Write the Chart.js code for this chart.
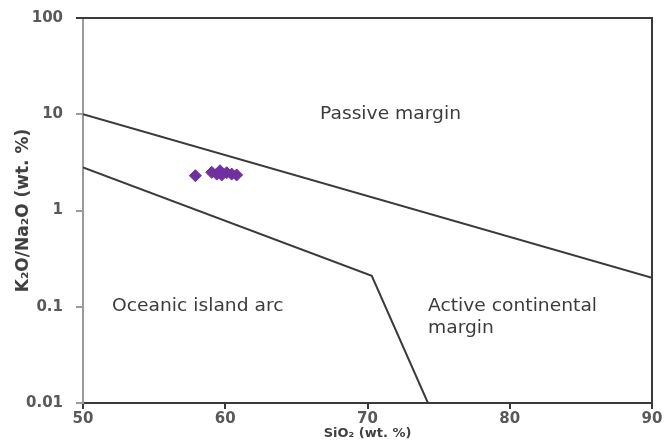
<!DOCTYPE html>
<html>
<head>
<meta charset="utf-8">
<script src="https://cdn.jsdelivr.net/npm/chart.js@4/dist/chart.umd.min.js"></script>
<style>
  html, body { margin: 0; padding: 0; background: #fff; }
  #wrap { width: 665px; height: 448px; }
</style>
</head>
<body>
<div id="wrap"><canvas id="myChart"></canvas></div>
<script>
// sample points (SiO2 vs K2O/Na2O)
const sio2 = [57.9, 59.05, 59.4, 59.63, 59.75, 60.1, 60.45, 60.8];
const k2oNa2o = [2.3, 2.49, 2.39, 2.59, 2.34, 2.47, 2.39, 2.34];

// field boundaries
const passiveX = [50, 90];
const passiveY = [10, 0.2];
const arcX = [50, 70.3, 74.25];
const arcY = [2.8, 0.21, 0.01];

const xTicks = [50, 60, 70, 80, 90];
const yTicks = [0.01, 0.1, 1, 10, 100];

const regionLabels = [
  { lines: ['Passive margin'], x: 66.66, y: 10 },
  { lines: ['Oceanic island arc'], x: 52.04, y: 0.1 },
  { lines: ['Active continental', 'margin'], x: 74.25, y: 0.1 },
];

const toXY = (xs, ys) => xs.map((x, i) => ({ x: x, y: ys[i] }));

const frame = {
  id: 'frame',
  afterDatasetsDraw(chart) {
    const { ctx, chartArea: a } = chart;
    ctx.save();
    ctx.strokeStyle = '#3a3a3a';
    ctx.lineWidth = 2;
    ctx.beginPath();
    ctx.moveTo(a.left - 7, a.top);
    ctx.lineTo(a.right, a.top);
    ctx.lineTo(a.right, a.bottom);
    ctx.stroke();
    ctx.restore();
  },
};

// field names, drawn a little wide
const fieldNames = {
  id: 'fieldNames',
  afterDraw(chart) {
    const { ctx, scales } = chart;
    ctx.save();
    ctx.fillStyle = '#3c3c3c';
    ctx.font = '17px "DejaVu Sans"';
    ctx.textBaseline = 'middle';
    ctx.textAlign = 'left';
    regionLabels.forEach((lbl) => {
      const px = scales.x.getPixelForValue(lbl.x);
      const py = scales.y.getPixelForValue(lbl.y);
      lbl.lines.forEach((t, i) => {
        ctx.save();
        ctx.translate(px, py + i * 22);
        ctx.scale(1.1, 1);
        ctx.fillText(t, 0, 0);
        ctx.restore();
      });
    });
    ctx.restore();
  },
};

const tickFont = { family: '"DejaVu Sans"', size: 15, weight: 'bold' };

new Chart(document.querySelector('#myChart'), {
  type: 'scatter',
  data: {
    datasets: [
      {
        data: toXY(passiveX, passiveY),
        showLine: true,
        borderColor: '#3a3a3a',
        borderWidth: 2,
        pointRadius: 0,
      },
      {
        data: toXY(arcX, arcY),
        showLine: true,
        borderColor: '#3a3a3a',
        borderWidth: 2,
        pointRadius: 0,
      },
      {
        data: toXY(sio2, k2oNa2o),
        pointStyle: 'rectRot',
        pointRadius: 6,
        backgroundColor: '#7030a0',
        borderColor: '#7030a0',
        borderWidth: 1,
      },
    ],
  },
  options: {
    responsive: true,
    maintainAspectRatio: false,
    animation: false,
    layout: { padding: { top: 18, right: 13, left: 0, bottom: 0 } },
    plugins: { legend: { display: false }, tooltip: { enabled: false } },
    scales: {
      x: {
        type: 'linear',
        min: 50,
        max: 90,
        afterBuildTicks: (s) => { s.ticks = xTicks.map((v) => ({ value: v })); },
        afterFit: (s) => {
          s.height = 45;
          s.paddingLeft = 0;
          s.paddingRight = 0;
        },
        grid: { drawOnChartArea: false, tickLength: 6, color: '#3a3a3a', lineWidth: 2 },
        border: { color: '#3a3a3a', width: 2 },
        ticks: { color: '#595959', font: tickFont, padding: 1, maxRotation: 0 },
        title: {
          display: true,
          text: 'SiO₂ (wt. %)',
          color: '#404040',
          font: { family: '"DejaVu Sans"', size: 13, weight: 'bold' },
          padding: { top: 0, bottom: 7 },
        },
      },
      y: {
        type: 'logarithmic',
        min: 0.01,
        max: 100,
        afterBuildTicks: (s) => { s.ticks = yTicks.map((v) => ({ value: v })); },
        afterFit: (s) => {
          s.width = 83;
          s.paddingTop = 0;
          s.paddingBottom = 0;
        },
        grid: { drawOnChartArea: false, tickLength: 7, color: '#9a9a9a', lineWidth: 2 },
        border: { color: '#9a9a9a', width: 2 },
        ticks: {
          color: '#595959',
          font: tickFont,
          padding: 13,
          callback: (v) => String(v),
        },
        title: {
          display: true,
          text: 'K₂O/Na₂O (wt. %)',
          color: '#404040',
          font: { family: '"DejaVu Sans"', size: 17, weight: 'bold' },
          padding: { top: 13, bottom: 0 },
        },
      },
    },
  },
  plugins: [frame, fieldNames],
});
</script>
</body>
</html>
